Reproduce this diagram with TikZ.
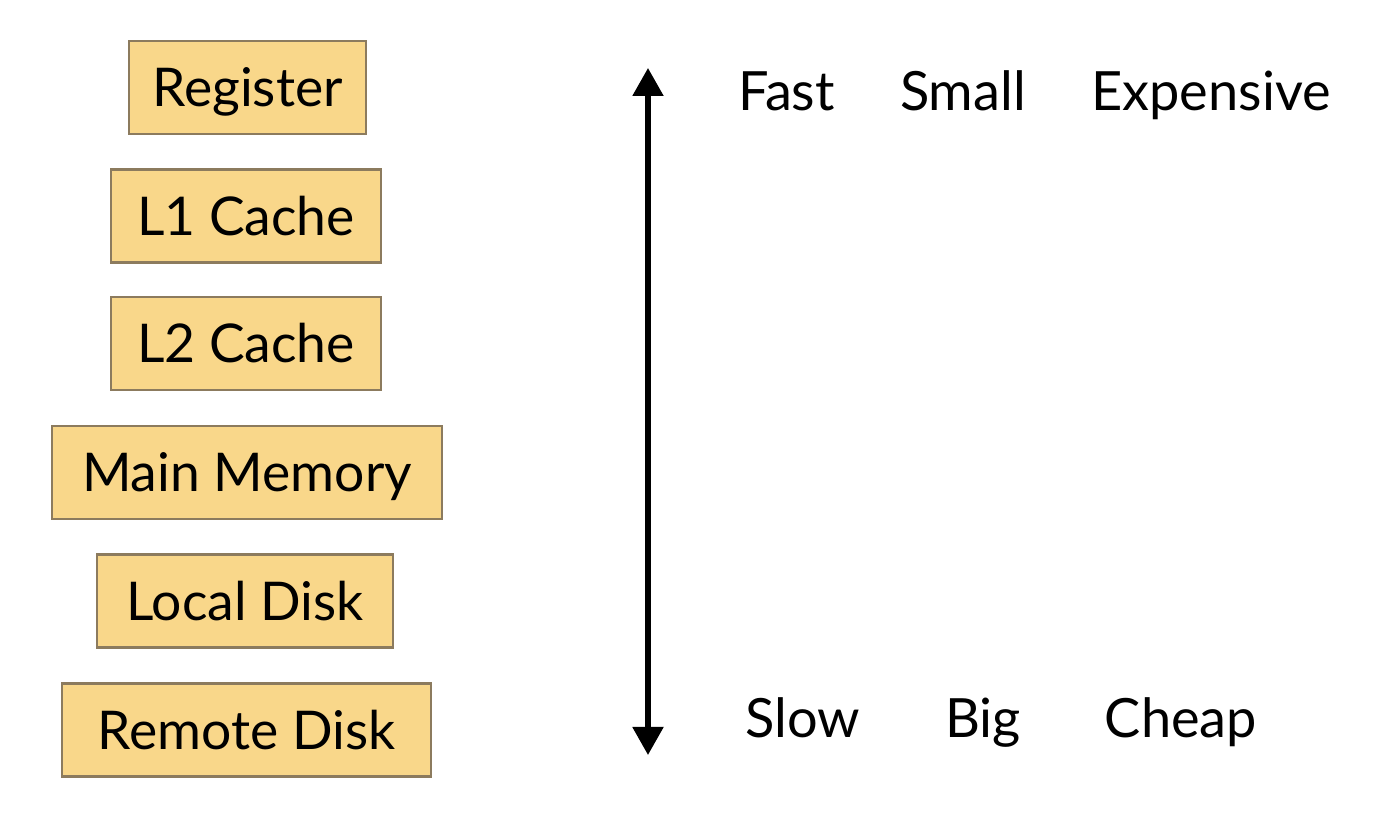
\documentclass[tikz,border=0pt]{standalone}
\usepackage{fontspec}
\setmainfont{Lato}
\usetikzlibrary{arrows.meta}
\definecolor{boxfill}{HTML}{F9D78A}
\definecolor{boxline}{HTML}{8C7B5E}
\tikzset{
  memlevel/.style={draw=boxline, line width=0.6pt, fill=boxfill, font=\fontsize{15.2}{18}\selectfont,
    text height=10.9pt, text depth=0pt, inner xsep=0pt, inner ysep=0pt, minimum height=0.93cm},
  cost/.style={anchor=base, font=\fontsize{15.4}{18}\selectfont}
}
\begin{document}
\begin{tikzpicture}
            \useasboundingbox (0,0) rectangle (13.96,8.28);
            % memory levels
            \node[memlevel, minimum width=2.37cm] (reg) at (2.475,7.405) {Register};
            \node[memlevel, minimum width=2.70cm] (l1) at (2.46,6.12) {L1 Cache};
            \node[memlevel, minimum width=2.70cm] (l2) at (2.46,4.845) {L2 Cache};
            \node[memlevel, minimum width=3.90cm] (mem) at (2.47,3.555) {Main Memory};
            \node[memlevel, minimum width=2.96cm] (ldisk) at (2.45,2.27) {Local Disk};
            \node[memlevel, minimum width=3.69cm] (rdisk) at (2.465,0.98) {Remote Disk};
            % scale arrow
            \coordinate (top) at (6.48,7.60);
            \coordinate (bot) at (6.48,0.73);
            \draw[{Triangle[length=0.28cm,width=0.3cm]}-{Triangle[length=0.28cm,width=0.3cm]}, line width=1.5pt] (top)--(bot);
            \node[cost] (fast) at (7.865,7.17) {Fast};
            \node[cost] (small) at (9.63,7.17) {Small};
            \node[cost] (exp) at (12.11,7.17) {Expensive};
            \node[cost] (slow) at (8.03,0.90) {Slow};
            \node[cost] (big) at (9.83,0.90) {Big};
            \node[cost] (cheap) at (11.81,0.90) {Cheap};
        \end{tikzpicture}
\end{document}
